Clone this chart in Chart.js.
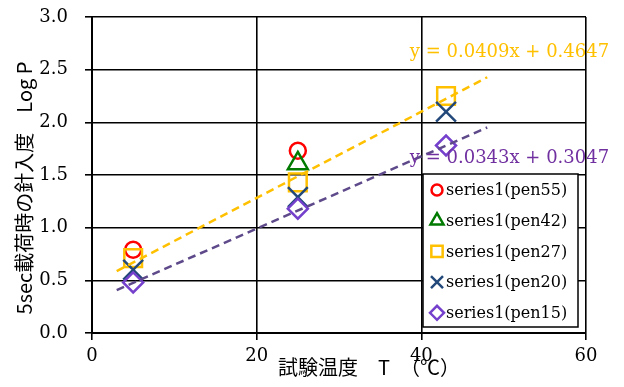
<!DOCTYPE html>
<html>
<head>
<meta charset="utf-8">
<script src="https://cdn.jsdelivr.net/npm/chart.js@4.4.1/dist/chart.umd.min.js"></script>
<style>
  html, body { margin: 0; padding: 0; background: #ffffff; }
  #chart { display: block; }
</style>
</head>
<body>
<canvas id="chart" width="624" height="387"></canvas>
<script>
// Test temperatures (°C)
const temperatures = [5, 25, 43];

// log of 5 s needle penetration for each grade
const pen55 = [0.79, 1.73, null];
const pen42 = [null, 1.61, null];
const pen27 = [0.71, 1.43, 2.25];
const pen20 = [0.60, 1.29, 2.10];
const pen15 = [0.48, 1.18, 1.78];

const seriesNames = ['series1(pen55)', 'series1(pen42)', 'series1(pen27)', 'series1(pen20)', 'series1(pen15)'];

// axis ticks
const xTicks = [0, 20, 40, 60];
const yTicks = [0, 0.5, 1.0, 1.5, 2.0, 2.5, 3.0];

// linear trendlines: [slope, intercept], drawn over this temperature span
const trendSpan = [3, 48];
const trendPen27 = [0.0409, 0.4647];
const trendPen15 = [0.0343, 0.3047];

const xTitle = '試験温度　T　（℃）';
const yTitle = '5sec載荷時の針入度　Log P';

const SERIF = '"DejaVu Serif", "Liberation Serif", serif';
const SANS = '"Noto Sans CJK JP", "Noto Sans", sans-serif';

function points(values) {
  const out = [];
  temperatures.forEach((t, i) => {
    if (values[i] !== null) out.push({ x: t, y: values[i] });
  });
  return out;
}

function trendPoints(coef) {
  return trendSpan.map(t => ({ x: t, y: coef[0] * t + coef[1] }));
}

function equationText(coef) {
  return 'y = ' + coef[0].toFixed(4) + 'x + ' + coef[1].toFixed(4);
}

const markerSets = [
  { values: pen55, color: '#FF0000', style: 'circle',    radius: 8,    legendRadius: 5.5, order: 5 },
  { values: pen42, color: '#007A00', style: 'triangle',  radius: 11.5, legendRadius: 7.5, order: 4 },
  { values: pen27, color: '#FFC000', style: 'rect',      radius: 12.5, legendRadius: 8,   order: 3 },
  { values: pen20, color: '#23497A', style: 'crossRot',  radius: 14,   legendRadius: 8.5, order: 2 },
  { values: pen15, color: '#7440CC', style: 'rectRot',   radius: 10,   legendRadius: 7,   order: 1 }
];

const datasets = [
  {
    label: 'trend pen27',
    data: trendPoints(trendPen27),
    showLine: true,
    borderColor: '#FFC000',
    borderWidth: 2.5,
    borderDash: [8, 5],
    pointRadius: 0,
    order: 0
  },
  {
    label: 'trend pen15',
    data: trendPoints(trendPen15),
    showLine: true,
    borderColor: '#5E4A8A',
    borderWidth: 2.5,
    borderDash: [8, 5],
    pointRadius: 0,
    order: 0
  }
];

markerSets.forEach((m, i) => {
  datasets.push({
    label: seriesNames[i],
    data: points(m.values),
    showLine: false,
    pointStyle: m.style,
    pointRadius: m.radius,
    pointHoverRadius: m.radius,
    pointBorderWidth: 2.5,
    pointBorderColor: m.color,
    pointBackgroundColor: 'rgba(0,0,0,0)',
    borderColor: m.color,
    backgroundColor: 'rgba(0,0,0,0)',
    order: m.order
  });
});

// Axis titles and trendline equations
const annotations = {
  id: 'annotations',
  afterDraw(chart) {
    const { ctx, scales } = chart;
    ctx.save();
    ctx.fillStyle = '#000';
    ctx.font = '20px ' + SANS;
    ctx.textBaseline = 'middle';
    ctx.textAlign = 'left';
    ctx.fillText(xTitle, 278, 367);

    ctx.save();
    ctx.translate(24, 188);
    ctx.rotate(-Math.PI / 2);
    ctx.textAlign = 'center';
    ctx.fillText(yTitle, 0, 0);
    ctx.restore();

    ctx.font = '18px ' + SERIF;
    ctx.textAlign = 'left';
    ctx.fillStyle = '#FFC000';
    ctx.fillText(equationText(trendPen27), scales.x.getPixelForValue(38.6), scales.y.getPixelForValue(2.66));
    ctx.fillStyle = '#7030A0';
    ctx.fillText(equationText(trendPen15), scales.x.getPixelForValue(38.6), scales.y.getPixelForValue(1.66));
    ctx.restore();
  }
};

// Boxed legend inside the plot area, lower right
const boxLegend = {
  id: 'boxLegend',
  afterDraw(chart) {
    const { ctx, chartArea } = chart;
    const right = chartArea.right - 8;
    const bottom = chartArea.bottom - 6;
    const w = 155, h = 153;
    const left = right - w, top = bottom - h;
    ctx.save();
    ctx.fillStyle = '#fff';
    ctx.fillRect(left, top, w, h);
    ctx.strokeStyle = '#000';
    ctx.lineWidth = 1.5;
    ctx.strokeRect(left, top, w, h);

    ctx.font = '16px ' + SERIF;
    ctx.textBaseline = 'middle';
    ctx.textAlign = 'left';
    markerSets.forEach((m, i) => {
      const cy = top + 16 + i * 30.7;
      const cx = left + 14;
      ctx.save();
      ctx.strokeStyle = m.color;
      ctx.fillStyle = 'rgba(0,0,0,0)';
      ctx.lineWidth = 2.5;
      Chart.helpers.drawPoint(ctx, { pointStyle: m.style, radius: m.legendRadius, rotation: 0, borderWidth: 2.5 }, cx, cy);
      ctx.restore();
      ctx.fillStyle = '#000';
      ctx.fillText(seriesNames[i], left + 23, cy + 1);
    });
    ctx.restore();
  }
};

new Chart(document.getElementById('chart'), {
  type: 'scatter',
  data: { datasets },
  options: {
    responsive: false,
    animation: false,
    devicePixelRatio: 1,
    layout: { padding: { top: 17, right: 38, left: 0, bottom: 0 } },
    plugins: {
      legend: { display: false },
      tooltip: { enabled: false },
      title: { display: false }
    },
    scales: {
      x: {
        type: 'linear',
        min: 0,
        max: 60,
        afterBuildTicks: s => { s.ticks = xTicks.map(v => ({ value: v })); },
        afterFit: s => { s.height = 54; },
        ticks: {
          color: '#000',
          font: { family: SERIF, size: 18 },
          padding: 6,
          maxRotation: 0,
          autoSkip: false,
          callback: v => String(v)
        },
        grid: { color: '#000', lineWidth: 1.6, tickLength: 7, tickColor: '#000', tickWidth: 1.6 },
        border: { color: '#000', width: 2 }
      },
      y: {
        type: 'linear',
        min: 0,
        max: 3,
        afterBuildTicks: s => { s.ticks = yTicks.map(v => ({ value: v })); },
        afterFit: s => { s.width = 92; s.paddingTop = 0; s.paddingBottom = 0; },
        ticks: {
          color: '#000',
          font: { family: SERIF, size: 18 },
          padding: 17,
          autoSkip: false,
          callback: v => Number(v).toFixed(1)
        },
        grid: { color: '#000', lineWidth: 1.6, tickLength: 7, tickColor: '#000', tickWidth: 1.6 },
        border: { color: '#000', width: 2 }
      }
    }
  },
  plugins: [annotations, boxLegend]
});
</script>
</body>
</html>
